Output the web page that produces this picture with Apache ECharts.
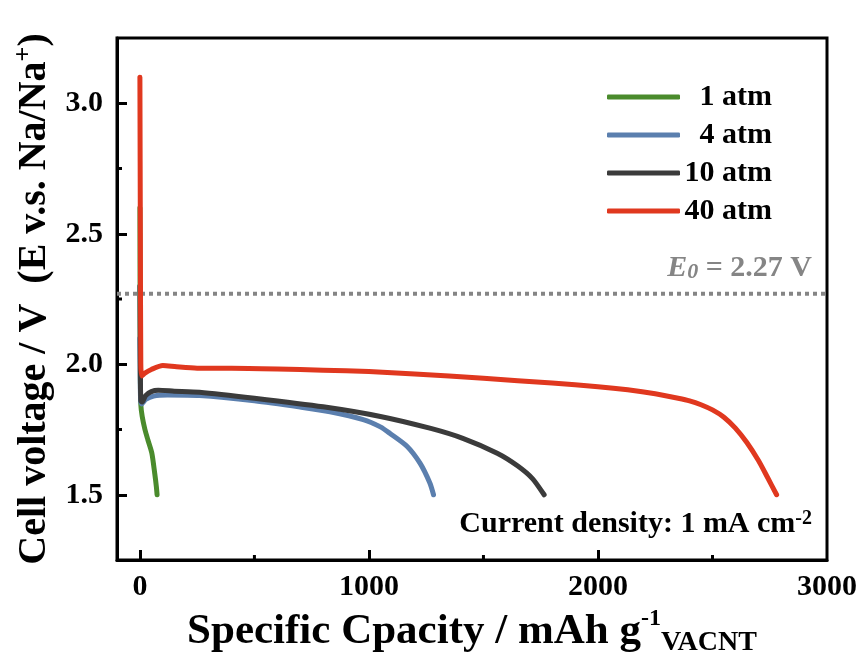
<!DOCTYPE html>
<html><head><meta charset="utf-8">
<script src="https://cdn.jsdelivr.net/npm/echarts@6/dist/echarts.min.js"></script>
<style>html,body{margin:0;padding:0;background:#fff}#c{width:863px;height:664px}</style>
</head><body><div id="c"></div>
<script>
// ---- data ----
const seriesNames = ['1 atm', '4 atm', '10 atm', '40 atm'];
const seriesColors = ['#4a8b2c', '#5b7fae', '#3b3b3b', '#e0381f'];

const cap1 = [0, 1, 2, 4, 10, 22, 35, 52, 65, 72, 75];
const volt1 = [2.60, 2.20, 1.95, 1.845, 1.80, 1.75, 1.71, 1.66, 1.58, 1.53, 1.50];

const cap4 = [0, 3, 8, 25, 60, 120, 260, 500, 700, 830, 975, 1050, 1092, 1166, 1223, 1266, 1282];
const volt4 = [2.10, 1.86, 1.848, 1.865, 1.878, 1.882, 1.88, 1.86, 1.836, 1.818, 1.788, 1.76, 1.735, 1.686, 1.621, 1.545, 1.50];

const cap10 = [0, 2, 4, 10, 25, 50, 80, 150, 260, 500, 800, 1050, 1270, 1410, 1560, 1650, 1715, 1765];
const volt10 = [2.30, 2.00, 1.86, 1.855, 1.88, 1.895, 1.90, 1.897, 1.893, 1.87, 1.837, 1.80, 1.754, 1.716, 1.659, 1.61, 1.561, 1.50];

const cap40 = [0, 2, 4, 8, 20, 50, 100, 160, 250, 400, 600, 800, 1000, 1200, 1500, 1800, 2000, 2130, 2250, 2350, 2400, 2450, 2500, 2550, 2600, 2650, 2700, 2740, 2780];
const volt40 = [3.10, 2.50, 2.00, 1.955, 1.965, 1.98, 1.995, 1.99, 1.985, 1.985, 1.982, 1.977, 1.972, 1.963, 1.946, 1.928, 1.914, 1.902, 1.887, 1.870, 1.860, 1.845, 1.825, 1.797, 1.755, 1.70, 1.632, 1.567, 1.50];

const e0Cap = [-100, 3000];
const e0Volt = [2.27, 2.27];

const xMajorTicks = [0, 1000, 2000, 3000];
const xMinorTicks = [500, 1500, 2500];
const yMajorTicks = [1.5, 2.0, 2.5, 3.0];
const yMinorTicks = [1.75, 2.25, 2.75];

// ---- chart ----
const FF = '"Liberation Serif", "Times New Roman", serif';
const TICK = '#000';
const X_MIN = -100, X_MAX = 3000, Y_MIN = 1.25, Y_MAX = 3.25;
const caps = [cap1, cap4, cap10, cap40];
const volts = [volt1, volt4, volt10, volt40];
const pairs = (xs, ys) => xs.map((x, i) => [x, ys[i]]);

const chart = echarts.init(document.getElementById('c'));
const lineSeries = seriesNames.map((n, k) => ({
  name: n, type: 'line', data: pairs(caps[k], volts[k]), showSymbol: false, symbol: 'none',
  smooth: 0.25,
  lineStyle: { color: seriesColors[k], width: 5, cap: 'round', join: 'round' },
  itemStyle: { color: seriesColors[k] }, z: 3 + k, animation: false
}));

const textGraphics = [{
  type: 'text', x: 812, y: 283, z: 10,
  style: {
    text: '{e|E}{s|0}{t| = 2.27 V}', align: 'right', verticalAlign: 'bottom',
    rich: {
      e: { fontFamily: FF, fontWeight: 'bold', fontStyle: 'italic', fontSize: 30, lineHeight: 30, fill: '#858585' },
      s: { fontFamily: FF, fontWeight: 'bold', fontStyle: 'italic', fontSize: 22, lineHeight: 12, verticalAlign: 'bottom', fill: '#858585' },
      t: { fontFamily: FF, fontWeight: 'bold', fontSize: 30, lineHeight: 30, fill: '#858585' }
    }
  }
}, {
  type: 'text', x: 812, y: 539, z: 10,
  style: {
    text: '{a|Current density: 1 mA cm}{b|-2}', align: 'right', verticalAlign: 'bottom',
    rich: {
      a: { fontFamily: FF, fontWeight: 'bold', fontSize: 30, lineHeight: 30, fill: '#000' },
      b: { fontFamily: FF, fontWeight: 'bold', fontSize: 20, lineHeight: 20, verticalAlign: 'top', fill: '#000' }
    }
  }
}];

const option = {
  animation: false,
  backgroundColor: '#fff',
  grid: { left: 117, right: 36, top: 38, bottom: 104, show: true, borderColor: '#000', borderWidth: 3, containLabel: false },
  xAxis: {
    type: 'value', min: X_MIN, max: X_MAX, position: 'bottom',
    name: '{a|Specific Cpacity / mAh g}{sup|-1}{sub|VACNT}',
    nameLocation: 'middle', nameGap: 40,
    nameTextStyle: { rich: {
      a: { fontFamily: FF, fontWeight: 'bold', fontSize: 43, lineHeight: 50, color: '#000' },
      sup: { fontFamily: FF, fontWeight: 'bold', fontSize: 24, lineHeight: 28, verticalAlign: 'top', color: '#000' },
      sub: { fontFamily: FF, fontWeight: 'bold', fontSize: 28, lineHeight: 14, verticalAlign: 'bottom', color: '#000' }
    } },
    axisLine: { show: true, onZero: false, lineStyle: { color: '#000', width: 3 } },
    axisTick: { show: true, inside: true, length: 10, customValues: xMajorTicks.filter(v => v < X_MAX), lineStyle: { color: TICK, width: 3 } },
    axisLabel: { show: true, customValues: xMajorTicks, margin: 12, formatter: v => String(v), fontFamily: FF, fontWeight: 'bold', fontSize: 30, color: '#000' },
    splitLine: { show: false }
  },
  yAxis: {
    type: 'value', min: Y_MIN, max: Y_MAX, position: 'left',
    name: '{a|Cell voltage / V  (E v.s. Na/Na}{sup|+}{a|)}',
    nameLocation: 'middle', nameGap: 50, nameRotate: 90,
    nameTextStyle: { rich: {
      a: { fontFamily: FF, fontWeight: 'bold', fontSize: 40, lineHeight: 46, color: '#000' },
      sup: { fontFamily: FF, fontWeight: 'bold', fontSize: 26, lineHeight: 26, verticalAlign: 'top', color: '#000' }
    } },
    axisLine: { show: true, onZero: false, lineStyle: { color: '#000', width: 3 } },
    axisTick: { show: true, inside: true, length: 10, customValues: yMajorTicks, lineStyle: { color: TICK, width: 3 } },
    axisLabel: { show: true, customValues: yMajorTicks, margin: 14, formatter: v => v.toFixed(1), fontFamily: FF, fontWeight: 'bold', fontSize: 30, color: '#000' },
    splitLine: { show: false }
  },
  legend: {
    data: seriesNames, orient: 'vertical', left: 602, top: 77, itemGap: 8,
    itemWidth: 73, itemHeight: 5, icon: 'roundRect',
    formatter: n => '{r|' + n + '}',
    textStyle: { rich: { r: { width: 87, align: 'right', fontFamily: FF, fontWeight: 'bold', fontSize: 30, lineHeight: 30, color: '#000' } } }
  },
  series: [{
    name: 'E0', type: 'line', data: pairs(e0Cap, e0Volt), showSymbol: false, symbol: 'none', silent: true,
    lineStyle: { color: '#858585', width: 4, type: [4, 4] }, z: 2
  }].concat(lineSeries),
  graphic: textGraphics
};
chart.setOption(option);

// minor inward ticks placed through the chart's own scales
const tickGraphics = [];
const xBase = chart.convertToPixel({ yAxisIndex: 0 }, Y_MIN);
const yBase = chart.convertToPixel({ xAxisIndex: 0 }, X_MIN);
xMinorTicks.forEach(v => {
  const px = chart.convertToPixel({ xAxisIndex: 0 }, v);
  tickGraphics.push({ type: 'line', z: 20, shape: { x1: px, y1: xBase, x2: px, y2: xBase - 5 }, style: { stroke: TICK, lineWidth: 3 } });
});
yMinorTicks.forEach(v => {
  const py = chart.convertToPixel({ yAxisIndex: 0 }, v);
  tickGraphics.push({ type: 'line', z: 20, shape: { x1: yBase, y1: py, x2: yBase + 5, y2: py }, style: { stroke: TICK, lineWidth: 3 } });
});
chart.setOption({ graphic: textGraphics.concat(tickGraphics) });
</script>
</body></html>
